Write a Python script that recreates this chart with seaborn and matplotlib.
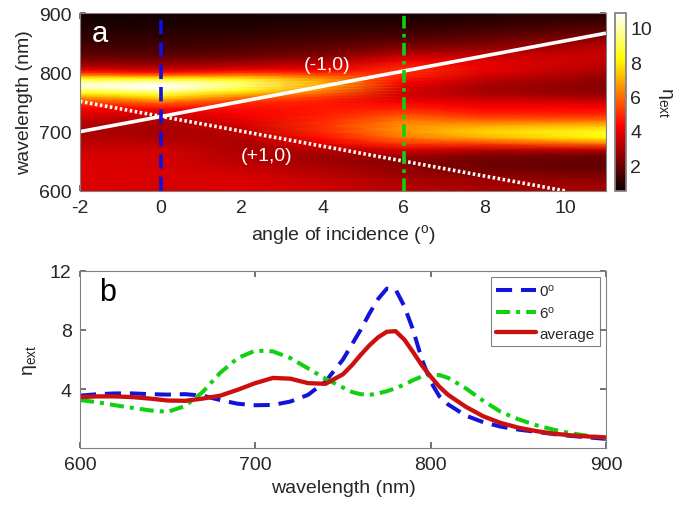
import numpy as np
import pandas as pd
import matplotlib
matplotlib.use("Agg")
import matplotlib.pyplot as plt
import seaborn as sns

# ---------------- data ----------------
wavelength = [600, 610, 620, 630, 640, 650, 660, 670, 680, 690, 700, 710, 720, 730, 740,
              750, 755, 760, 765, 770, 775, 780, 785, 790, 795, 800, 805, 810,
              820, 830, 840, 850, 860, 870, 880, 890, 900]

eta_0deg = [3.55, 3.65, 3.7, 3.7, 3.65, 3.62, 3.65, 3.55, 3.25, 3.0, 2.9, 2.92, 3.15, 3.6, 4.5,
            6.0, 7.0, 8.0, 9.1, 10.1, 10.8, 10.75, 9.6, 8.0, 6.0, 4.5, 3.5, 2.95,
            2.2, 1.75, 1.45, 1.25, 1.1, 0.95, 0.82, 0.72, 0.62]

eta_6deg = [3.25, 3.1, 2.9, 2.72, 2.55, 2.45, 2.85, 3.8, 5.1, 6.1, 6.6, 6.55, 6.1, 5.4, 4.7,
            4.1, 3.8, 3.65, 3.6, 3.7, 3.85, 4.05, 4.3, 4.6, 4.85, 4.95, 4.95, 4.75,
            4.05, 3.2, 2.45, 1.95, 1.55, 1.25, 1.0, 0.82, 0.68]

eta_avg = [3.45, 3.5, 3.5, 3.45, 3.35, 3.22, 3.2, 3.35, 3.55, 3.95, 4.4, 4.75, 4.7, 4.4, 4.35,
           5.0, 5.6, 6.3, 6.95, 7.5, 7.88, 7.92, 7.35, 6.5, 5.6, 4.85, 4.15, 3.6,
           2.8, 2.15, 1.7, 1.38, 1.15, 0.98, 0.86, 0.78, 0.72]

# extinction map columns (angle of incidence, degrees)
map_angles = [-2, 0, 2, 4, 6, 8, 11]
map_m2 = [3.7, 3.75, 3.8, 3.8, 3.75, 3.7, 3.65, 3.5, 3.3, 3.1, 3.0, 3.1, 3.4, 3.8, 4.3,
          5.2, 6.0, 7.0, 8.2, 9.4, 10.2, 10.3, 9.6, 8.2, 6.4, 4.9, 3.8, 3.1,
          2.3, 1.8, 1.5, 1.3, 1.1, 0.95, 0.8, 0.7, 0.6]
map_2 = [3.7, 3.7, 3.7, 3.6, 3.4, 3.2, 3.1, 3.0, 3.0, 3.1, 3.3, 3.6, 3.9, 4.2, 4.5,
         5.0, 5.6, 6.4, 7.4, 8.4, 9.1, 9.4, 9.0, 7.8, 6.3, 5.0, 4.0, 3.3,
         2.5, 1.9, 1.6, 1.35, 1.15, 1.0, 0.85, 0.75, 0.65]
map_4 = [3.5, 3.5, 3.4, 3.2, 3.0, 2.8, 2.8, 3.2, 3.9, 4.5, 4.9, 5.0, 4.9, 4.7, 4.6,
         4.7, 4.9, 5.3, 5.8, 6.4, 6.8, 7.0, 6.9, 6.4, 5.6, 4.8, 4.1, 3.6,
         2.9, 2.3, 1.9, 1.6, 1.35, 1.15, 0.95, 0.8, 0.7]
map_8 = [3.0, 2.9, 2.7, 2.4, 2.1, 2.0, 2.3, 3.3, 5.2, 7.0, 7.6, 6.9, 5.7, 4.8, 4.3,
         3.8, 3.5, 3.2, 3.0, 2.9, 2.9, 3.0, 3.2, 3.4, 3.6, 3.8, 3.9, 3.95,
         3.8, 3.3, 2.7, 2.2, 1.8, 1.5, 1.2, 1.0, 0.8]
map_11 = [3.0, 2.8, 2.5, 2.2, 1.9, 1.8, 2.1, 3.4, 6.0, 8.2, 8.5, 7.3, 5.8, 4.8, 4.3,
          3.6, 3.2, 2.9, 2.6, 2.5, 2.45, 2.45, 2.5, 2.6, 2.75, 2.9, 3.05, 3.2,
          3.4, 3.45, 3.3, 2.9, 2.4, 1.9, 1.5, 1.2, 0.95]

# Rayleigh anomaly lines
ra_minus_angle = [-2, 11]
ra_minus_wl = [700, 866]
ra_plus_angle = [-2, 10]
ra_plus_wl = [751, 600]

cut_angles = [0, 6]
series_names = ["0$^{\\mathrm{o}}$", "6$^{\\mathrm{o}}$", "average"]

# ---------------- style ----------------
sns.set_theme(style="white")
plt.rcParams['font.family'] = ['Liberation Sans', 'DejaVu Sans']
plt.rcParams['mathtext.fontset'] = 'custom'
plt.rcParams['mathtext.rm'] = 'Liberation Sans'
plt.rcParams['mathtext.it'] = 'Liberation Sans:italic'
plt.rcParams['mathtext.bf'] = 'Liberation Sans:bold'
plt.rcParams['axes.unicode_minus'] = False

fig = plt.figure(figsize=(6.89, 5.06), dpi=100)
ax1 = fig.add_axes([0.1161, 0.6206, 0.7634, 0.3517])
cax = fig.add_axes([0.8926, 0.6206, 0.016, 0.3517])
ax2 = fig.add_axes([0.1161, 0.1126, 0.7634, 0.3499])

# ---------------- panel a ----------------
C = np.array([map_m2, eta_0deg, map_2, map_4, eta_6deg, map_8, map_11]).T
A, W = np.meshgrid(map_angles, wavelength)
mesh = ax1.pcolormesh(A, W, C, shading='gouraud', cmap='hot', vmin=0.5, vmax=10.85,
                      rasterized=True)
ax1.plot(ra_minus_angle, ra_minus_wl, color='white', lw=2.6, solid_capstyle='butt')
ax1.plot(ra_plus_angle, ra_plus_wl, color='white', lw=2.6, linestyle=(0, (0.7, 0.7)))
ax1.axvline(cut_angles[0], color='#1010e0', lw=2.6, linestyle=(0, (4, 2.2)))
ax1.axvline(cut_angles[1], color='#10d010', lw=2.6, linestyle=(0, (3.5, 1.5, 1, 1.5)))
ax1.set_xlim(-2, 11)
ax1.set_ylim(600, 900)
ax1.set_xticks([-2, 0, 2, 4, 6, 8, 10])
ax1.set_yticks([600, 700, 800, 900])
ax1.text(-1.7, 866, 'a', color='white', fontsize=21, va='center', ha='left')
ax1.text(4.1, 814, '(-1,0)', color='white', fontsize=14, va='center', ha='center')
ax1.text(2.6, 659, '(+1,0)', color='white', fontsize=14, va='center', ha='center')
ax1.set_xlabel('angle of incidence ($^{\\mathrm{o}}$)', fontsize=14, labelpad=4)
ax1.set_ylabel('wavelength (nm)', fontsize=14, labelpad=4)

cb = fig.colorbar(mesh, cax=cax, ticks=[2, 4, 6, 8, 10])
cb.outline.set_edgecolor('#808080')
cax.tick_params(labelsize=14, direction='in', length=4, color='#606060', pad=3)
cax.set_ylabel('η$_{\\mathrm{ext}}$', fontsize=14, rotation=270, labelpad=16)

# ---------------- panel b ----------------
df = pd.DataFrame({
    'wavelength': wavelength * 3,
    'eta': eta_0deg + eta_6deg + eta_avg,
    'series': [series_names[0]] * len(wavelength) + [series_names[1]] * len(wavelength)
              + [series_names[2]] * len(wavelength),
})
styles = {
    series_names[0]: dict(color='#1414d8', lw=2.9, linestyle=(0, (4, 2.2))),
    series_names[1]: dict(color='#10d010', lw=2.9, linestyle=(0, (3.5, 1.5, 1, 1.5))),
    series_names[2]: dict(color='#cc1010', lw=3.1, linestyle='-'),
}
for name in series_names:
    sub = df[df['series'] == name]
    sns.lineplot(data=sub, x='wavelength', y='eta', ax=ax2, label=name, **styles[name])

ax2.set_xlim(600, 900)
ax2.set_ylim(0, 12)
ax2.set_xticks([600, 700, 800, 900])
ax2.set_yticks([4, 8, 12])
ax2.text(611, 10.6, 'b', color='black', fontsize=22, va='center', ha='left')
ax2.set_xlabel('wavelength (nm)', fontsize=14, labelpad=4)
ax2.set_ylabel('η$_{\\mathrm{ext}}$', fontsize=14, labelpad=8)
leg = ax2.legend(loc='upper right', fontsize=11, handlelength=2.6, frameon=True,
                 fancybox=False, edgecolor='#606060', borderaxespad=0.4,
                 labelspacing=0.4, handletextpad=0.2, borderpad=0.35)
leg.get_frame().set_linewidth(0.8)

for ax in (ax1, ax2):
    ax.tick_params(labelsize=14, direction='in', length=4, top=True, right=True,
                   bottom=True, left=True, color='#606060', pad=6)
    for s in ax.spines.values():
        s.set_edgecolor('#808080')
        s.set_linewidth(0.8)

fig.savefig('out.png', dpi=100)
